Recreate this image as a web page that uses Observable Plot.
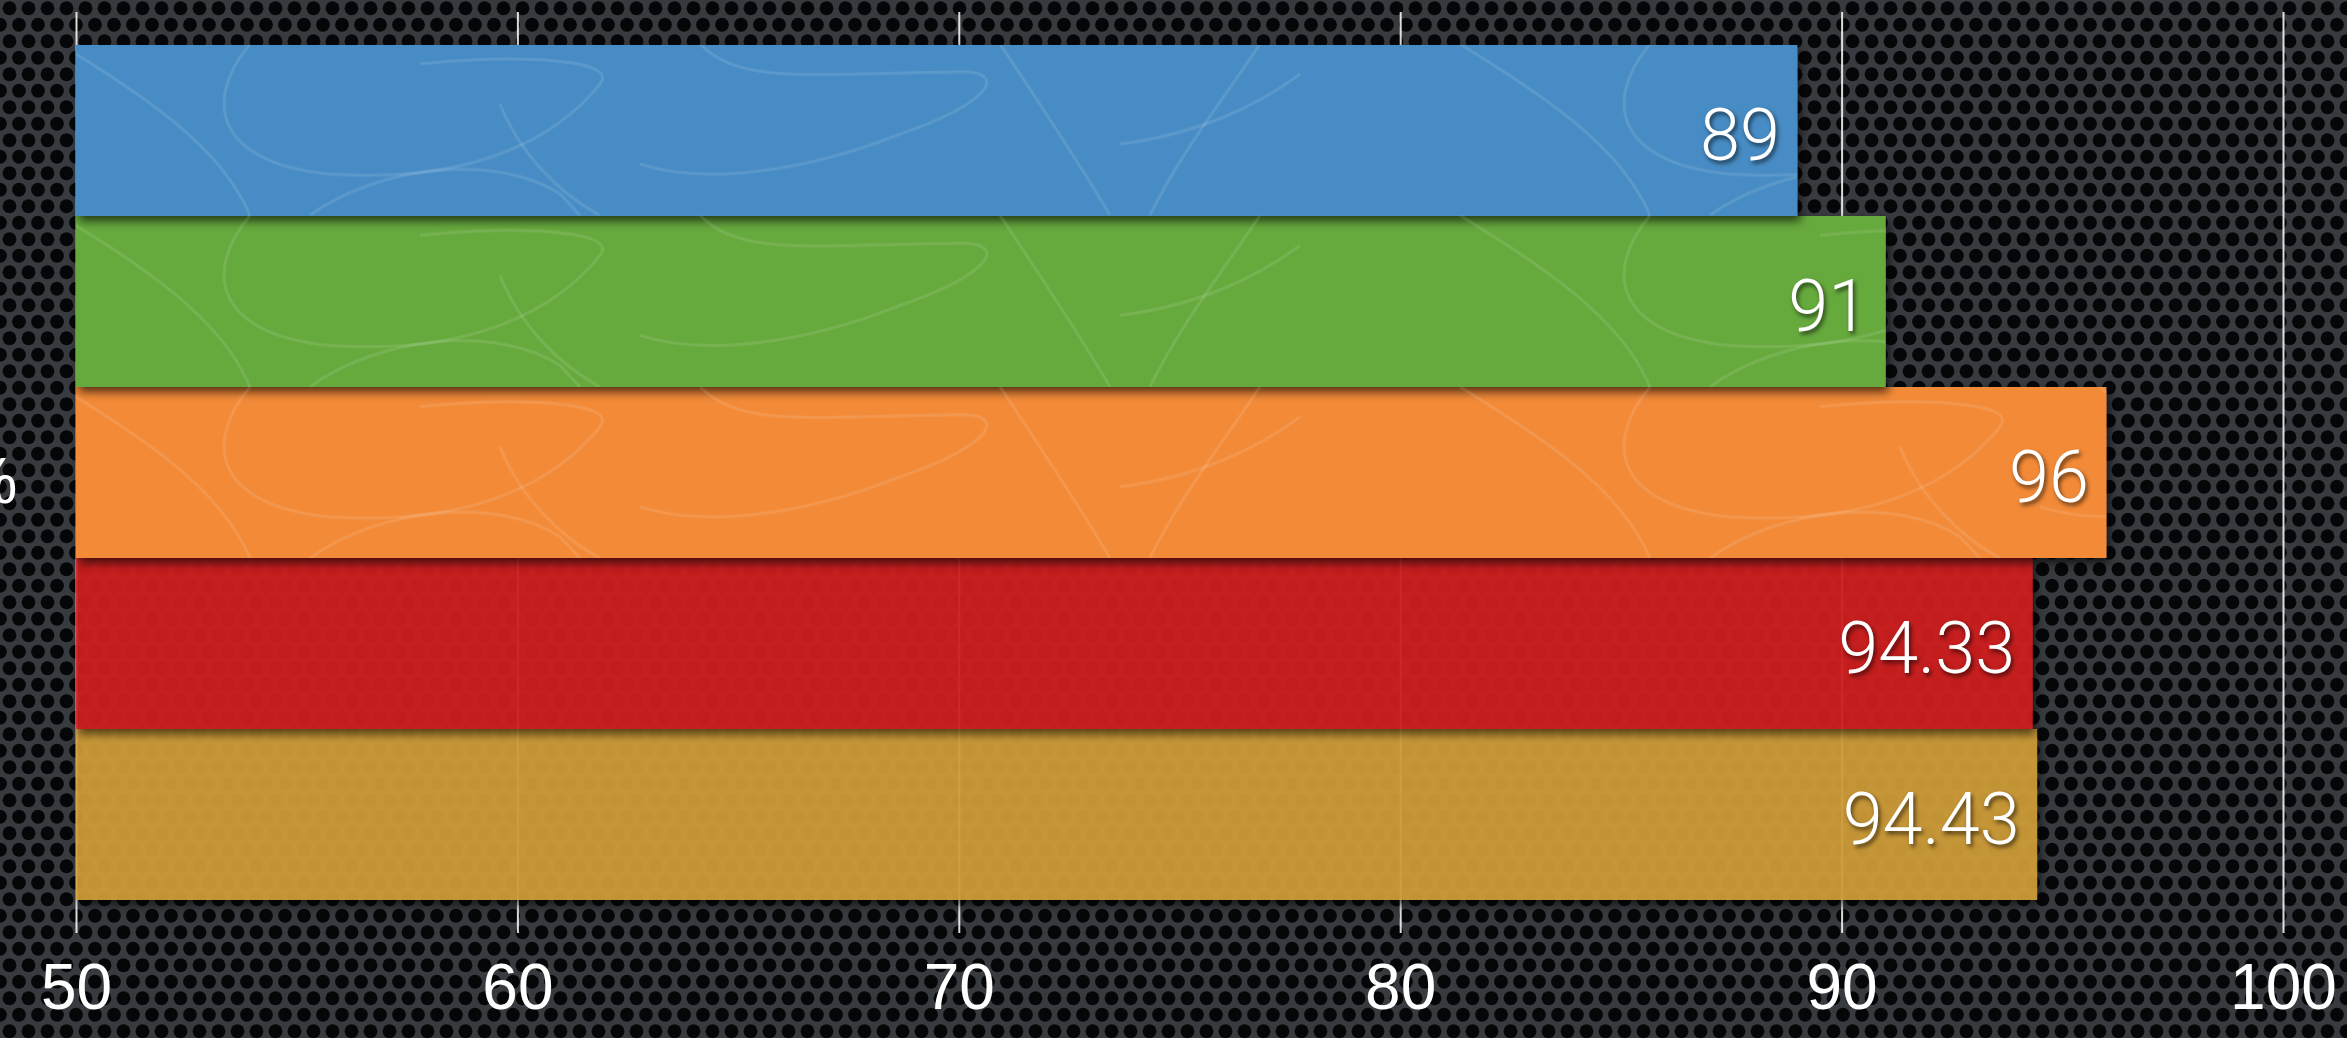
<!DOCTYPE html>
<html>
<head>
<meta charset="utf-8">
<script src="https://cdn.jsdelivr.net/npm/d3@7"></script>
<script src="https://cdn.jsdelivr.net/npm/@observablehq/plot@0.6"></script>
<style>
  html, body { margin: 0; padding: 0; background: #1b1d20; }
  #chart svg { display: block; }
  .bar-labels text { filter: drop-shadow(2px 3px 2px rgba(0,0,0,0.6)); }
</style>
</head>
<body>
<div id="chart"></div>
<script>
// Scores per run, top to bottom
const categories = ["Run A", "Run B", "Run C", "Run D", "Run E"];
const values = [89, 91, 96, 94.33, 94.43];
const xTicks = [50, 60, 70, 80, 90, 100];
const unitLabel = ["%"];

// Bar colours and which bars use the see-through mesh finish
const palette = ["#468cc4", "#66a93d", "#f28a39", "#d41c1c", "#d4a03a"];
const meshRuns = new Set(["Run D", "Run E"]);

const rows = categories.map((category, i) => ({category, value: values[i]}));
const base = xTicks[0];
const drawOrder = rows.slice().reverse(); // lower bars first so upper bars cast shadow onto them
const meshRows = drawOrder.filter(d => meshRuns.has(d.category));
const solidRows = drawOrder.filter(d => !meshRuns.has(d.category));

const W = 2347, H = 1038;

const chart = Plot.plot({
  width: W,
  height: H,
  marginLeft: 76,
  marginRight: 64,
  marginTop: 44,
  marginBottom: 137,
  style: {fontFamily: "'Liberation Sans', Arial, Helvetica, sans-serif", color: "#ffffff", background: "transparent", overflow: "visible"},
  x: {domain: [xTicks[0], xTicks[xTicks.length - 1]], label: null},
  y: {domain: categories, padding: 0, axis: null},
  color: {domain: categories, range: palette},
  marks: [
    Plot.ruleX(xTicks, {x: d => d, stroke: "#ffffff", strokeOpacity: 0.85, strokeWidth: 2, insetTop: -32, insetBottom: -32}),
    Plot.barX(meshRows, {x1: () => base, x2: "value", y: "category", fill: "category", fillOpacity: 0.88}),
    Plot.barX(solidRows, {x1: () => base, x2: "value", y: "category", fill: "category"}),
    Plot.barX(solidRows, {x1: () => base, x2: "value", y: "category", fill: "url(#swirl)"}),
    Plot.axisX({ticks: xTicks, tickSize: 0, tickPadding: 62, fontSize: 64, label: null, tickFormat: d => String(d)}),
    Plot.text(rows, {
      x: "value", y: "category", text: d => String(d.value),
      textAnchor: "end", dx: -18, dy: 6,
      fill: "#ffffff", fontSize: 72, fontWeight: 300,
      fontFamily: "Roboto, 'Open Sans', 'Liberation Sans', sans-serif",
      className: "bar-labels"
    }),
    Plot.text(unitLabel, {frameAnchor: "left", text: d => d, textAnchor: "end", dx: -59, dy: 10, fill: "#ffffff", fontSize: 64})
  ]
});

// Shared paint: perforated-metal backdrop, bar drop shadows and the scribble overlay
const ns = "http://www.w3.org/2000/svg";
const defs = document.createElementNS(ns, "defs");
const yTop = 44, band = (H - 137 - 44) / categories.length;
defs.innerHTML = `
  <pattern id="holes" patternUnits="userSpaceOnUse" width="19" height="33">
    <rect width="19" height="33" fill="#373a3f"/>
    <circle cx="9.5" cy="8.25" r="6.9" fill="#050607"/>
    <circle cx="0" cy="24.75" r="6.9" fill="#050607"/>
    <circle cx="19" cy="24.75" r="6.9" fill="#050607"/>
  </pattern>
  <filter id="barShadow" x="-5%" y="-30%" width="110%" height="170%">
    <feDropShadow dx="3" dy="5" stdDeviation="5" flood-color="#000" flood-opacity="0.65"/>
  </filter>
  <pattern id="swirl" patternUnits="userSpaceOnUse" x="0" y="${yTop}" width="1400" height="${band}">
    <g fill="none" stroke="#ffffff" stroke-opacity="0.11" stroke-width="3">
      <path d="M 60 0 C 140 50, 220 100, 250 ${band}"/>
      <path d="M 250 0 C 200 60, 220 120, 330 130 C 480 140, 560 90, 600 40 C 620 15, 520 10, 420 20"/>
      <path d="M 310 ${band} C 380 120, 500 110, 560 150 L 580 ${band}"/>
      <path d="M 500 60 C 520 110, 560 150, 600 ${band}"/>
      <path d="M 700 0 C 740 40, 800 30, 960 28 C 1010 27, 990 60, 900 90 C 800 130, 700 140, 640 120"/>
      <path d="M 1000 0 C 1040 60, 1080 120, 1110 ${band}"/>
      <path d="M 1150 ${band} C 1180 110, 1220 60, 1260 0"/>
      <path d="M 1120 100 C 1200 90, 1260 60, 1300 30"/>
    </g>
  </pattern>`;
chart.insertBefore(defs, chart.firstChild);
const bg = document.createElementNS(ns, "rect");
bg.setAttribute("width", W);
bg.setAttribute("height", H);
bg.setAttribute("fill", "url(#holes)");
chart.insertBefore(bg, defs.nextSibling);

// per-bar shadows on the two colour layers
const barGroups = chart.querySelectorAll('g[aria-label="bar"]');
[barGroups[0], barGroups[1]].forEach(g => g.querySelectorAll("rect").forEach(r => r.setAttribute("filter", "url(#barShadow)")));

document.getElementById("chart").appendChild(chart);
</script>
</body>
</html>
